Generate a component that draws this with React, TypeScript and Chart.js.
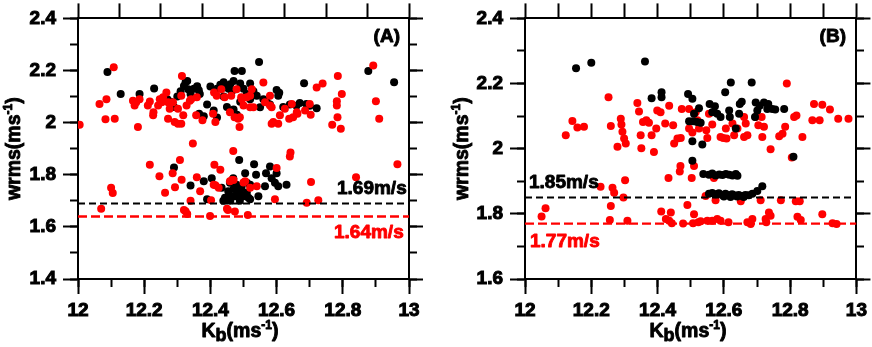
import React, { useEffect, useRef } from "react";
import { Chart, registerables } from "chart.js";

Chart.register(...registerables);

const RED = "#ff0000";
const BLACK = "#000000";
const FONT = "'Liberation Sans', Arial, sans-serif";

Chart.defaults.font.family = FONT;
Chart.defaults.font.weight = "bold" as any;
Chart.defaults.color = BLACK;

// ---------- Data ----------
const X_MIN = 12;
const X_MAX = 13;
const A_Y_MIN = 1.4;
const B_Y_MIN = 1.6;
const Y_MAX = 2.4;

const A_BLACK_LINE = 1.69;
const A_RED_LINE = 1.64;
const B_BLACK_LINE = 1.85;
const B_RED_LINE = 1.77;

const A_LABELS = ["(A)", "1.69m/s", "1.64m/s"];
const B_LABELS = ["(B)", "1.85m/s", "1.77m/s"];

const panelABlack: [number, number][] = [
  [12.089, 2.194], [12.129, 2.11], [12.186, 2.11], [12.23, 2.131], [12.27, 2.09], [12.28, 2.08],
  [12.29, 2.06], [12.3, 2.1], [12.31, 2.12], [12.32, 2.141], [12.325, 2.155], [12.333, 2.128],
  [12.34, 2.11], [12.33, 2.16], [12.35, 2.13], [12.36, 2.14], [12.365, 2.124], [12.368, 2.11],
  [12.366, 2.034], [12.38, 2.025], [12.39, 2.07], [12.4, 2.139], [12.41, 2.047], [12.42, 2.13],
  [12.42, 2.02], [12.43, 2.145], [12.44, 2.155], [12.45, 2.14], [12.455, 2.13], [12.46, 2.147],
  [12.47, 2.16], [12.465, 2.12], [12.44, 2.1], [12.45, 2.06], [12.47, 2.05], [12.48, 2.03],
  [12.473, 2.198], [12.495, 2.198], [12.49, 2.15], [12.49, 2.08], [12.5, 2.13], [12.51, 2.11],
  [12.52, 2.15], [12.52, 2.09], [12.53, 2.12], [12.54, 2.103], [12.547, 2.233], [12.55, 2.059],
  [12.56, 2.09], [12.57, 2.08], [12.58, 2.07], [12.605, 2.103], [12.608, 2.115], [12.6, 2.125],
  [12.62, 2.06], [12.64, 2.07], [12.66, 2.065], [12.67, 2.075], [12.683, 2.151], [12.69, 2.072],
  [12.7, 2.065], [12.721, 2.055], [12.877, 2.198], [12.955, 2.155],
  [12.29, 1.828], [12.34, 1.759], [12.38, 1.775], [12.404, 1.787], [12.39, 1.706], [12.434, 1.75],
  [12.444, 1.712], [12.454, 1.737], [12.459, 1.769], [12.469, 1.787], [12.474, 1.718], [12.479, 1.762],
  [12.487, 1.857], [12.505, 1.806], [12.51, 1.769], [12.51, 1.731], [12.515, 1.712], [12.52, 1.762],
  [12.532, 1.84], [12.538, 1.8], [12.545, 1.718], [12.565, 1.756], [12.568, 1.806], [12.58, 1.832],
  [12.585, 1.787], [12.595, 1.769], [12.6, 1.806], [12.605, 1.756], [12.63, 1.762], [12.439, 1.7],
  [12.489, 1.7], [12.5, 1.718], [12.45, 1.705], [12.482, 1.74], [12.494, 1.75], [12.464, 1.718],
  [12.52, 1.706], [12.46, 1.7], [12.49, 1.725], [12.47, 1.745],
];

const panelARed: [number, number][] = [
  [12.108, 2.213], [12.005, 1.992], [12.065, 2.072], [12.086, 2.09], [12.083, 2.013], [12.111, 2.015],
  [12.181, 1.983], [12.166, 2.084], [12.176, 2.078], [12.186, 2.09], [12.171, 2.066], [12.217, 2.081],
  [12.211, 2.066], [12.227, 2.028], [12.228, 2.04], [12.247, 2.09], [12.242, 2.066], [12.253, 2.078],
  [12.257, 2.097], [12.272, 2.078], [12.267, 2.116], [12.277, 2.053], [12.272, 2.015], [12.292, 2.002],
  [12.302, 1.996], [12.312, 1.996], [12.287, 2.078], [12.302, 2.053], [12.312, 2.103], [12.314, 2.179],
  [12.318, 2.028], [12.328, 2.066], [12.338, 2.084], [12.342, 2.09], [12.359, 2.097], [12.357, 2.028],
  [12.376, 2.009], [12.411, 2.116], [12.419, 2.103], [12.408, 2.034], [12.415, 2.002], [12.433, 2.128],
  [12.443, 2.097], [12.459, 2.04], [12.463, 2.103], [12.479, 2.128], [12.473, 2.021], [12.484, 2.015],
  [12.493, 2.097], [12.488, 1.983], [12.489, 2.021], [12.495, 2.09], [12.5, 2.066], [12.51, 2.097],
  [12.52, 2.103], [12.52, 2.059], [12.53, 2.059], [12.525, 2.128], [12.56, 2.154], [12.565, 2.078],
  [12.58, 2.066], [12.58, 2.103], [12.585, 2.059], [12.585, 1.996], [12.59, 2.002], [12.605, 1.996],
  [12.61, 2.028], [12.625, 2.053], [12.638, 2.015], [12.646, 2.072], [12.65, 2.021], [12.661, 2.04],
  [12.663, 2.034], [12.686, 2.047], [12.7, 2.072], [12.703, 2.03], [12.721, 2.135], [12.739, 2.15],
  [12.785, 2.179], [12.797, 2.11], [12.782, 2.066], [12.782, 2.082], [12.784, 2.021], [12.768, 1.992],
  [12.794, 1.977], [12.892, 2.219], [12.9, 2.082], [12.91, 2.015],
  [12.347, 1.92], [12.217, 1.838], [12.246, 1.794], [12.263, 1.731], [12.286, 1.806], [12.293, 1.752],
  [12.308, 1.857], [12.313, 1.781], [12.32, 1.665], [12.33, 1.649], [12.325, 1.66], [12.34, 1.7],
  [12.359, 1.79], [12.369, 1.737], [12.399, 1.642], [12.402, 1.702], [12.412, 1.838], [12.41, 1.762],
  [12.415, 1.76], [12.425, 1.75], [12.43, 1.819], [12.469, 1.891], [12.465, 1.78], [12.459, 1.775],
  [12.47, 1.78], [12.45, 1.67], [12.453, 1.665], [12.474, 1.659], [12.5, 1.77], [12.505, 1.775],
  [12.52, 1.75], [12.513, 1.646], [12.54, 1.756], [12.6, 1.826], [12.595, 1.706], [12.64, 1.87],
  [12.642, 1.885], [12.691, 1.693], [12.704, 1.772], [12.726, 1.702], [12.07, 1.67], [12.1, 1.75],
  [12.105, 1.73], [12.84, 1.79], [12.965, 1.84],
];

const panelBBlack: [number, number][] = [
  [12.154, 2.247], [12.2, 2.264], [12.362, 2.268], [12.382, 2.155], [12.412, 2.173], [12.412, 2.158],
  [12.492, 2.168], [12.505, 2.153], [12.51, 2.107], [12.495, 2.084], [12.507, 2.084], [12.519, 2.082],
  [12.53, 2.08], [12.505, 2.023], [12.535, 2.013], [12.525, 2.124], [12.557, 2.137], [12.573, 2.13],
  [12.565, 2.112], [12.58, 2.107], [12.59, 2.097], [12.604, 2.173], [12.621, 2.203], [12.616, 2.117],
  [12.618, 2.097], [12.636, 2.062], [12.648, 2.137], [12.654, 2.144], [12.646, 2.107], [12.684, 2.203],
  [12.696, 2.142], [12.701, 2.117], [12.694, 2.097], [12.708, 2.132], [12.721, 2.142], [12.734, 2.137],
  [12.746, 2.122], [12.731, 2.122], [12.755, 2.12], [12.782, 2.122], [12.81, 1.975], [12.505, 1.963],
  [12.538, 1.922], [12.555, 1.92], [12.565, 1.924], [12.575, 1.918], [12.586, 1.921], [12.596, 1.919],
  [12.606, 1.922], [12.616, 1.92], [12.626, 1.918], [12.636, 1.922], [12.641, 1.917],
  [12.555, 1.862], [12.565, 1.864], [12.575, 1.86], [12.585, 1.863], [12.595, 1.858], [12.605, 1.862],
  [12.615, 1.857], [12.625, 1.86], [12.635, 1.856], [12.645, 1.858], [12.655, 1.855], [12.665, 1.858],
  [12.675, 1.857], [12.686, 1.862], [12.701, 1.87], [12.716, 1.885], [12.6, 1.853], [12.62, 1.852],
  [12.64, 1.853], [12.66, 1.852],
];

const panelBRed: [number, number][] = [
  [12.05, 1.792], [12.062, 1.817], [12.123, 2.041], [12.143, 2.085], [12.158, 2.065], [12.178, 2.067],
  [12.252, 2.158], [12.259, 2.07], [12.228, 1.883], [12.264, 1.88], [12.269, 1.865], [12.259, 1.824],
  [12.256, 1.781], [12.279, 2.006], [12.289, 2.092], [12.291, 2.074], [12.294, 2.052], [12.299, 2.031],
  [12.304, 2.016], [12.302, 1.903], [12.297, 1.85], [12.309, 1.779], [12.339, 2.14], [12.344, 2.114],
  [12.349, 2.041], [12.351, 2.001], [12.356, 2.082], [12.366, 2.087], [12.374, 2.08], [12.382, 2.041],
  [12.389, 1.99], [12.399, 2.117], [12.409, 2.112], [12.396, 2.062], [12.423, 2.077], [12.435, 2.132],
  [12.447, 2.072], [12.45, 2.016], [12.46, 2.031], [12.47, 2.033], [12.473, 2.122], [12.433, 1.91],
  [12.469, 1.947], [12.467, 1.93], [12.411, 1.807], [12.425, 1.784], [12.435, 1.779], [12.443, 1.771],
  [12.44, 1.804], [12.477, 1.77], [12.49, 1.827], [12.503, 1.91], [12.51, 1.947], [12.51, 1.799],
  [12.507, 1.771], [12.523, 1.774], [12.53, 1.777], [12.495, 2.122], [12.515, 2.112], [12.495, 2.062],
  [12.505, 2.05], [12.525, 2.062], [12.52, 2.087], [12.547, 2.057], [12.55, 2.033], [12.555, 2.107],
  [12.565, 2.074], [12.545, 1.855], [12.55, 1.779], [12.565, 1.779], [12.58, 1.784], [12.59, 1.779],
  [12.614, 1.774], [12.57, 1.91], [12.575, 1.842], [12.59, 2.036], [12.598, 2.033], [12.606, 2.062],
  [12.608, 2.031], [12.626, 2.077], [12.631, 2.041], [12.641, 2.062], [12.651, 1.839], [12.661, 2.097],
  [12.661, 2.036], [12.671, 2.041], [12.666, 2.077], [12.671, 1.774], [12.686, 1.784], [12.681, 1.769],
  [12.696, 2.097], [12.704, 2.072], [12.714, 2.097], [12.711, 1.842], [12.721, 2.067], [12.716, 2.036],
  [12.726, 1.784], [12.728, 1.774], [12.736, 1.804], [12.741, 1.794], [12.741, 1.998], [12.767, 2.038],
  [12.777, 2.046], [12.772, 1.842], [12.785, 2.067], [12.79, 2.2], [12.812, 2.097], [12.819, 2.102],
  [12.805, 1.973], [12.817, 1.839], [12.829, 1.839], [12.822, 1.791], [12.832, 1.781], [12.837, 2.036],
  [12.867, 2.087], [12.889, 2.087], [12.872, 2.137], [12.897, 2.135], [12.897, 1.799], [12.92, 2.12],
  [12.928, 1.771], [12.94, 1.769], [12.945, 2.092], [12.976, 2.092],
];

// ---------- Chart helpers ----------
type Seg = { t: string; size: number; dy: number };

const TEXT_STROKE = 0.9;

function boldText(ctx: CanvasRenderingContext2D, t: string, x: number, y: number) {
  ctx.lineWidth = TEXT_STROKE;
  ctx.strokeStyle = ctx.fillStyle as string;
  ctx.lineJoin = "round";
  ctx.fillText(t, x, y);
  ctx.strokeText(t, x, y);
}

function drawSegs(ctx: CanvasRenderingContext2D, segs: Seg[], cx: number, y: number) {
  const widths = segs.map((s) => {
    ctx.font = `bold ${s.size}px ${FONT}`;
    return ctx.measureText(s.t).width;
  });
  const total = widths.reduce((a, b) => a + b, 0);
  let x = cx - total / 2;
  ctx.textAlign = "left";
  ctx.textBaseline = "alphabetic";
  segs.forEach((s, i) => {
    ctx.font = `bold ${s.size}px ${FONT}`;
    boldText(ctx, s.t, x, y + s.dy);
    x += widths[i];
  });
}

interface PanelCfg {
  black: [number, number][];
  red: [number, number][];
  blackLine: number;
  redLine: number;
  yMin: number;
  topStep: number;
  blackOnTop: boolean;
  labels: string[];
  leftW: number;
  rightW: number;
  yTitleX: number;
  xTitleCX: number;
  tagX: number;
  blackLabelPos: [number, number];
  redLabelPos: [number, number];
}

const tickFont = { family: FONT, size: 19, weight: "bold" as any, style: "normal" as const, lineHeight: 1.2 };
const fmt = (v: any) => String(Math.round(Number(v) * 10) / 10);

function gridOpts(len: number) {
  return {
    drawOnChartArea: false,
    drawTicks: true,
    tickLength: len,
    tickWidth: 2,
    tickColor: BLACK,
  };
}
const border = { display: true, color: BLACK, width: 2 };
const noBorder = { display: false };

function buildChart(canvas: HTMLCanvasElement, p: PanelCfg) {
  const pts = (arr: [number, number][]) => arr.map(([x, y]) => ({ x, y }));
  const dotBlack = {
    data: pts(p.black),
    backgroundColor: BLACK,
    borderWidth: 0,
    pointRadius: 4,
    pointHoverRadius: 4,
  };
  const dotRed = {
    data: pts(p.red),
    backgroundColor: RED,
    borderWidth: 0,
    pointRadius: 4,
    pointHoverRadius: 4,
  };
  const lineBlack = {
    data: [{ x: X_MIN, y: p.blackLine }, { x: X_MAX, y: p.blackLine }],
    showLine: true,
    borderColor: BLACK,
    borderWidth: 2,
    borderDash: [7, 4],
    pointRadius: 0,
  };
  const lineRed = {
    data: [{ x: X_MIN, y: p.redLine }, { x: X_MAX, y: p.redLine }],
    showLine: true,
    borderColor: RED,
    borderWidth: 2.4,
    borderDash: [9, 4],
    pointRadius: 0,
  };
  const dots = p.blackOnTop ? [dotBlack, dotRed] : [dotRed, dotBlack];

  const textPlugin = {
    id: "texts",
    afterDraw(chart: any) {
      const ctx: CanvasRenderingContext2D = chart.ctx;
      const area = chart.chartArea;
      ctx.save();
      ctx.fillStyle = BLACK;
      ctx.font = `bold 19px ${FONT}`;
      ctx.textAlign = "right";
      ctx.textBaseline = "alphabetic";
      boldText(ctx, p.labels[0], p.tagX, 42);
      ctx.textAlign = "left";
      boldText(ctx, p.labels[1], p.blackLabelPos[0], p.blackLabelPos[1]);
      ctx.fillStyle = RED;
      boldText(ctx, p.labels[2], p.redLabelPos[0], p.redLabelPos[1]);
      ctx.fillStyle = BLACK;
      drawSegs(
        ctx,
        [
          { t: "K", size: 19.5, dy: 0 },
          { t: "b", size: 18, dy: 4 },
          { t: "(ms", size: 19.5, dy: 0 },
          { t: "-1", size: 12, dy: -8 },
          { t: ")", size: 19.5, dy: 0 },
        ],
        p.xTitleCX,
        337
      );
      ctx.save();
      ctx.translate(p.yTitleX, (area.top + area.bottom) / 2);
      ctx.rotate(-Math.PI / 2);
      drawSegs(
        ctx,
        [
          { t: "wrms(ms", size: 19.5, dy: 0 },
          { t: "-1", size: 12, dy: -8 },
          { t: ")", size: 19.5, dy: 0 },
        ],
        0,
        0
      );
      ctx.restore();
      ctx.restore();
    },
  };

  const labelTicks = (padding: number) => ({
    stepSize: 0.2,
    autoSkip: false,
    maxRotation: 0,
    font: tickFont,
    color: BLACK,
    textStrokeColor: BLACK,
    textStrokeWidth: 1,
    padding,
    callback: fmt,
  });

  return new Chart(canvas, {
    type: "scatter",
    data: { datasets: [lineBlack, lineRed, ...dots] as any },
    options: {
      responsive: false,
      maintainAspectRatio: false,
      animation: false,
      devicePixelRatio: 1,
      events: [],
      layout: { padding: 0 },
      plugins: { legend: { display: false }, tooltip: { enabled: false } },
      scales: {
        x: {
          type: "linear",
          axis: "x",
          position: "bottom",
          min: X_MIN,
          max: X_MAX,
          afterFit: (s: any) => {
            s.height = 68;
          },
          ticks: labelTicks(5),
          grid: gridOpts(15),
          border,
        },
        xTop: {
          type: "linear",
          axis: "x",
          position: "top",
          min: X_MIN,
          max: X_MAX,
          afterFit: (s: any) => {
            s.height = 15;
          },
          ticks: { display: false, stepSize: p.topStep, autoSkip: false },
          grid: gridOpts(15),
          border,
        },
        xMinor: {
          type: "linear",
          axis: "x",
          position: { y: p.yMin },
          min: X_MIN,
          max: X_MAX,
          ticks: { display: false, stepSize: 0.1, autoSkip: false },
          grid: gridOpts(8),
          border: noBorder,
        },
        y: {
          type: "linear",
          axis: "y",
          position: "left",
          min: p.yMin,
          max: Y_MAX,
          afterFit: (s: any) => {
            s.width = p.leftW;
          },
          ticks: labelTicks(7),
          grid: gridOpts(15),
          border,
        },
        yMinor: {
          type: "linear",
          axis: "y",
          position: { x: X_MIN },
          min: p.yMin,
          max: Y_MAX,
          ticks: { display: false, stepSize: 0.1, autoSkip: false },
          grid: gridOpts(8),
          border: noBorder,
        },
        yRight: {
          type: "linear",
          axis: "y",
          position: "right",
          min: p.yMin,
          max: Y_MAX,
          afterFit: (s: any) => {
            s.width = p.rightW;
          },
          ticks: { display: false, stepSize: 0.2, autoSkip: false },
          grid: gridOpts(14),
          border,
        },
        yRightMinor: {
          type: "linear",
          axis: "y",
          position: { x: X_MAX },
          min: p.yMin,
          max: Y_MAX,
          ticks: { display: false, stepSize: 0.1, autoSkip: false },
          grid: gridOpts(-8),
          border: noBorder,
        },
      } as any,
    },
    plugins: [textPlugin],
  });
}

const panelA: PanelCfg = {
  black: panelABlack,
  red: panelARed,
  blackLine: A_BLACK_LINE,
  redLine: A_RED_LINE,
  yMin: A_Y_MIN,
  topStep: 0.125,
  blackOnTop: false,
  labels: A_LABELS,
  leftW: 78,
  rightW: 27,
  yTitleX: 20,
  xTitleCX: 240,
  tagX: 400,
  blackLabelPos: [337, 194],
  redLabelPos: [334, 238],
};

const panelB: PanelCfg = {
  black: panelBBlack,
  red: panelBRed,
  blackLine: B_BLACK_LINE,
  redLine: B_RED_LINE,
  yMin: B_Y_MIN,
  topStep: 0.1,
  blackOnTop: true,
  labels: B_LABELS,
  leftW: 89,
  rightW: 15,
  yTitleX: 32,
  xTitleCX: 252,
  tagX: 410,
  blackLabelPos: [93, 188],
  redLabelPos: [94, 247],
};

function Panel({ cfg, left }: { cfg: PanelCfg; left: number }) {
  const ref = useRef<HTMLCanvasElement | null>(null);
  useEffect(() => {
    if (!ref.current) return;
    const chart = buildChart(ref.current, cfg);
    return () => chart.destroy();
  }, [cfg]);
  return (
    <canvas
      ref={ref}
      width={436}
      height={347}
      style={{ position: "absolute", left, top: 0, width: 436, height: 347 }}
    />
  );
}

export default function App() {
  return (
    <div
      style={{
        position: "absolute",
        left: 0,
        top: 0,
        width: 872,
        height: 347,
        background: "#ffffff",
        overflow: "hidden",
      }}
    >
      <Panel cfg={panelA} left={0} />
      <Panel cfg={panelB} left={436} />
    </div>
  );
}
